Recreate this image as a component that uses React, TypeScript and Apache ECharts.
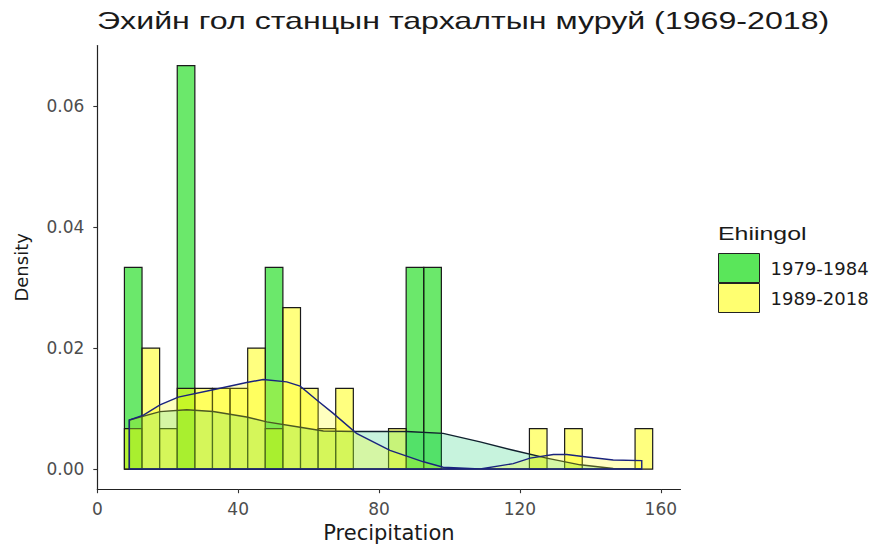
import React, { useEffect, useRef } from "react";
import * as echarts from "echarts";

const titleText = "Эхийн гол станцын тархалтын муруй (1969-2018)";
const legendTitle = "Ehiingol";
const groupNames = ["1979-1984", "1989-2018"];
const xTicks = [0, 40, 80, 120, 160];
const yTicks = [0, 0.02, 0.04, 0.06];

const binStart = 7.7;
const binWidth = 5.0;
// counts per bin (30 bins)
const greenCounts = [1, 0, 0, 2, 0, 0, 0, 0, 1, 0, 0, 0, 0, 0, 0, 0, 1, 1, 0, 0, 0, 0, 0, 0, 0, 0, 0, 0, 0, 0];
const greenN = 6;
const yellowCounts = [1, 3, 1, 2, 2, 2, 2, 3, 1, 4, 2, 1, 2, 0, 0, 1, 0, 0, 0, 0, 0, 0, 0, 1, 0, 1, 0, 0, 0, 1];
const yellowN = 30;

// density curves
const yellowDensX = [9.1, 13.1, 17.8, 23.0, 32.9, 42.4, 47.1, 53.8, 57.6, 62.3, 67.0, 73.6, 83.1, 92.6, 98.2, 108.7, 118.1, 122.9, 129.5, 133.3, 139.0, 146.5, 154.6];
const yellowDensY = [0.0081, 0.0089, 0.0106, 0.0119, 0.0131, 0.0143, 0.0148, 0.0144, 0.0137, 0.0114, 0.0092, 0.0059, 0.0031, 0.0012, 0.0003, 0.0, 0.0009, 0.0018, 0.0024, 0.0024, 0.002, 0.0015, 0.0014];
const greenDensX = [9.1, 17.8, 25.4, 32.9, 42.4, 48.1, 57.6, 64.2, 73.6, 87.8, 98.2, 108.7, 118.1, 127.6, 137.1, 146.5, 154.6];
const greenDensY = [0.0081, 0.0095, 0.0098, 0.0095, 0.0086, 0.0078, 0.0069, 0.0063, 0.0062, 0.0062, 0.0059, 0.0045, 0.0031, 0.0018, 0.0007, 0.0001, 0.0];

function histSeries(name: string, counts: number[], n: number, fill: string, z: number) {
  const data = counts
    .map((c, i) => [binStart + i * binWidth, binStart + (i + 1) * binWidth, c / (n * binWidth)])
    .filter((d) => d[2] > 0);
  return {
    type: "custom",
    name,
    z,
    data,
    encode: { x: [0, 1], y: 2 },
    renderItem: (params: any, api: any) => {
      const l = api.value(0);
      const r = api.value(1);
      const h = api.value(2);
      const p0 = api.coord([l, 0]);
      const p1 = api.coord([r, h]);
      return {
        type: "rect",
        shape: { x: p0[0], y: p1[1], width: p1[0] - p0[0], height: p0[1] - p1[1] },
        style: { fill, stroke: "#1a1a1a", lineWidth: 1.2 },
      };
    },
  };
}

function densSeries(name: string, xs: number[], ys: number[], fill: string, stroke: string, z: number) {
  const data = xs.map((x, i) => [x, ys[i]]);
  return {
    type: "custom",
    name,
    z,
    data,
    encode: { x: 0, y: 1 },
    renderItem: (params: any, api: any) => {
      if (params.dataIndex !== 0) return null;
      const pts = xs.map((x, i) => api.coord([x, ys[i]]));
      const b0 = api.coord([xs[0], 0]);
      const b1 = api.coord([xs[xs.length - 1], 0]);
      return {
        type: "polygon",
        shape: { points: [b0, ...pts, b1] },
        style: { fill, stroke, lineWidth: 1.4 },
      };
    },
  };
}

export default function App() {
  const ref = useRef<HTMLDivElement>(null);
  useEffect(() => {
    if (!ref.current) return;
    const chart = echarts.init(ref.current, null, { renderer: "svg" });
    const font = "DejaVu Sans";
    const option: any = {
      animation: false,
      backgroundColor: "#ffffff",
      grid: {
        left: 97.3,
        top: 45.5,
        width: 583.2,
        height: 443.7,
        containLabel: false,
        outerBoundsMode: "none",
      },
      xAxis: {
        type: "value",
        min: 0,
        max: 165.6,
        axisLine: { show: true, onZero: false, lineStyle: { color: "#222", width: 1.2 } },
        axisTick: { show: true, customValues: xTicks, length: 4, lineStyle: { color: "#333", width: 1.1 } },
        axisLabel: { customValues: xTicks, color: "#4d4d4d", fontSize: 17, fontFamily: font, margin: 11 },
        splitLine: { show: false },
        name: "Precipitation",
        nameLocation: "middle",
        nameGap: 26,
        nameTextStyle: { fontSize: 21, fontFamily: font, color: "#1a1a1a" },
      },
      yAxis: {
        type: "value",
        min: -0.00333,
        max: 0.07,
        axisLine: { show: true, onZero: false, lineStyle: { color: "#222", width: 1.2 } },
        axisTick: { show: true, customValues: yTicks, length: 4, lineStyle: { color: "#333", width: 1.1 } },
        axisLabel: {
          customValues: yTicks,
          color: "#4d4d4d",
          fontSize: 17,
          fontFamily: font,
          margin: 13,
          formatter: (v: number) => v.toFixed(2),
        },
        splitLine: { show: false },
        name: "Density",
        nameLocation: "middle",
        nameGap: 67,
        nameTextStyle: { fontSize: 18, fontFamily: font, color: "#1a1a1a" },
      },
      legend: {
        orient: "vertical",
        left: 718,
        top: 253,
        padding: 0,
        itemWidth: 41,
        itemHeight: 29,
        itemGap: 0,
        selectedMode: false,
        textStyle: { fontFamily: font, fontSize: 18, color: "#1a1a1a", padding: [0, 0, 0, 6] },
        data: [
          { name: groupNames[0], icon: "rect", itemStyle: { color: "#5ae65a", borderColor: "#222", borderWidth: 1 } },
          { name: groupNames[1], icon: "rect", itemStyle: { color: "#ffff70", borderColor: "#222", borderWidth: 1 } },
        ],
      },
      graphic: [
        {
          type: "text",
          x: 97,
          y: 21,
          scaleX: 1.34,
          style: {
            text: titleText,
            fontSize: 24,
            fontFamily: "Liberation Sans",
            fill: "#1a1a1a",
            verticalAlign: "middle",
          },
        },
        {
          type: "text",
          x: 718,
          y: 234,
          scaleX: 1.31,
          style: {
            text: legendTitle,
            fontSize: 19,
            fontFamily: "Liberation Sans",
            fill: "#1a1a1a",
            verticalAlign: "middle",
          },
        },
      ],
      series: [
        histSeries(groupNames[0], greenCounts, greenN, "rgba(0,215,0,0.58)", 1),
        histSeries(groupNames[1], yellowCounts, yellowN, "rgba(255,255,0,0.5)", 2),
        densSeries(groupNames[0], greenDensX, greenDensY, "rgba(0,200,100,0.22)", "#10202e", 3),
        densSeries(groupNames[1], yellowDensX, yellowDensY, "rgba(255,255,0,0.25)", "#1a237e", 4),
      ],
    };
    chart.setOption(option);
    return () => chart.dispose();
  }, []);
  return <div ref={ref} style={{ position: "fixed", left: 0, top: 0, width: 880, height: 544 }} />;
}
